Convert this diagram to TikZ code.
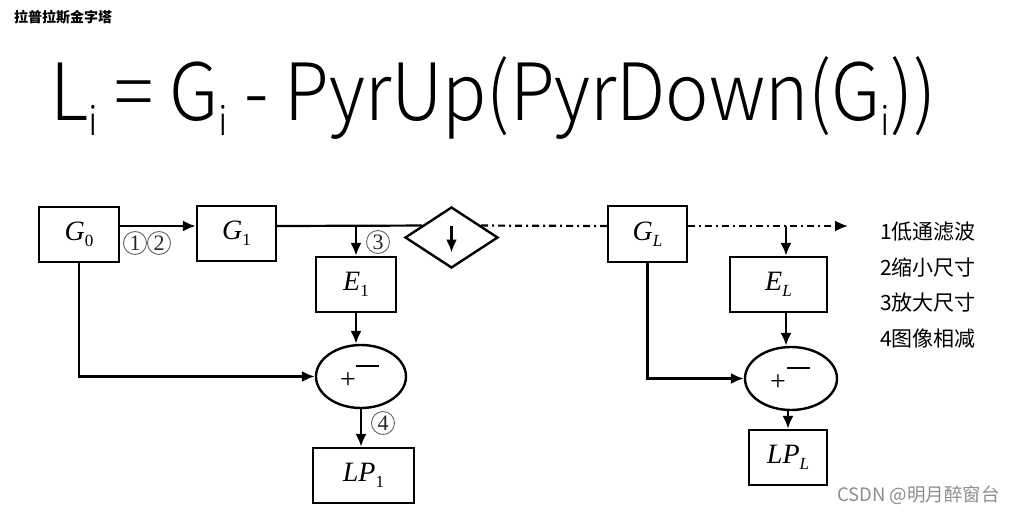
\documentclass[tikz,border=0pt]{standalone}
\usepackage{fontspec}
\setmainfont{Liberation Serif}
\newfontfamily\cjk{Noto Sans CJK SC}
\newfontfamily\cjklight{Noto Sans CJK SC Light}
\usetikzlibrary{arrows.meta,shapes.geometric,calc}
\newcommand{\lab}[2]{{\fontsize{28}{28}\selectfont\itshape #1}\raisebox{-6pt}{\fontsize{17}{17}\selectfont #2}}
\newcommand{\fsub}{\raisebox{-15pt}{\fontsize{40}{40}\selectfont i}}
\begin{document}
\begin{tikzpicture}[x=1pt,y=-1pt,
  box/.style={draw, line width=2.4pt, inner sep=0pt, minimum height=55pt},
  sum/.style={ellipse, draw, line width=2.4pt, inner sep=0pt, minimum width=90pt, minimum height=63pt},
  conn/.style={line width=2.2pt, -{Latex[length=13pt,width=11pt]}},
  plain/.style={line width=2.2pt},
  dd/.style={line width=2.2pt, dash pattern=on 7pt off 4pt on 2pt off 4pt},
  circ/.style={circle, draw=black!60, line width=0.9pt, inner sep=0pt, minimum size=23pt, font=\fontsize{22}{22}\selectfont, text=black!85},
  legend/.style={anchor=west, inner sep=0pt, font=\cjk\fontsize{21}{21}\selectfont},
  sign/.style={inner sep=0pt, font=\fontsize{28}{28}\selectfont}
]
\useasboundingbox (0,0) rectangle (1013,514);

% title and formula
\node[anchor=west, inner sep=0pt, font=\cjk\bfseries\fontsize{14}{14}\selectfont] (title) at (14,17) {拉普拉斯金字塔};
\node[anchor=base west, inner sep=0pt, font=\cjklight\fontsize{79}{79}\selectfont] (formula) at (50,120)
  {\scalebox{0.925}[1]{L\fsub\ = G\fsub\ - PyrUp(PyrDown(G\fsub))}};

% boxes
\node[box, minimum width=80pt] (G0) at (79,234.5) {\lab{G}{0}};
\node[box, minimum width=79pt] (G1) at (236.5,233.5) {\lab{G}{1}};
\node[diamond, draw, line width=2.4pt, inner sep=0pt, minimum width=93pt, minimum height=61pt] (D) at (451.5,237.5) {};
\node[box, minimum width=80pt] (E1) at (356,284.5) {\lab{E}{1}};
\node[sum] (S1) at (361,376.5) {};
\node[box, minimum width=101pt] (LP1) at (363.5,475.5) {\lab{LP}{1}};

\node[box, minimum width=79pt, minimum height=56pt] (GL) at (647.5,234) {\lab{G}{\itshape L}};
\node[box, minimum width=97pt] (EL) at (778.5,284.5) {\lab{E}{\itshape L}};
\node[sum, minimum width=92pt] (SL) at (791,378.5) {};
\node[box, minimum width=78pt] (LPL) at (788,457.5) {\lab{LP}{\itshape L}};

% signs
\node[sign] (p1) at (348,381) {+};
\node[inner sep=0pt] (m1) at (367,366) {\rule{23pt}{2.6pt}};
\node[sign] (p2) at (778,383) {+};
\node[inner sep=0pt] (m2) at (798,368) {\rule{23pt}{2.6pt}};

% coordinates
\coordinate (m) at (0,226);
\coordinate (b2) at (786,226);
\coordinate (end) at (848,226);

% connectors
\draw[conn] (G0.east |- m) -- (G1.west |- m);
\draw[plain] (G1.east |- m) -- ($(D.west)!0.377!(D.north)$);
\draw[conn] (E1.north |- m) -- (E1.north);
\draw[conn] ([yshift=12pt]D.center) -- ([yshift=-15pt]D.center);
\draw[dd] ($(D.east)!0.377!(D.north)$) -- (GL.west |- m);
\draw[dd, -{Latex[length=13pt,width=11pt]}] (GL.east |- m) -- (end);
\draw[conn] (b2) -- (b2 |- EL.north);
\draw[conn] (E1.south) -- (E1.south |- S1.north);
\draw[conn] (G0.south) -- (G0.south |- S1.west) -- (S1.west);
\draw[conn] (S1.south) -- (S1.south |- LP1.north);
\draw[conn] (GL.south) -- (GL.south |- SL.west) -- (SL.west);
\draw[conn] (b2 |- EL.south) -- (b2 |- SL.north);
\draw[conn] (LPL.north |- SL.south) -- (LPL.north);

% circled labels
\node[circ] (c1) at (135,243) {1};
\node[circ] (c2) at (159,243) {2};
\node[circ] (c3) at (378,242) {3};
\node[circ] (c4) at (383,423) {4};

% legend
\node[legend] (l1) at (880,232) {1低通滤波};
\node[legend] (l2) at (880,268) {2缩小尺寸};
\node[legend] (l3) at (880,303) {3放大尺寸};
\node[legend] (l4) at (880,339) {4图像相减};

% watermark
\node[anchor=east, inner sep=0pt, text=black!45, font=\cjk\fontsize{18.5}{18.5}\selectfont] (wm) at (1000,495) {CSDN @明月醉窗台};
\end{tikzpicture}
\end{document}
